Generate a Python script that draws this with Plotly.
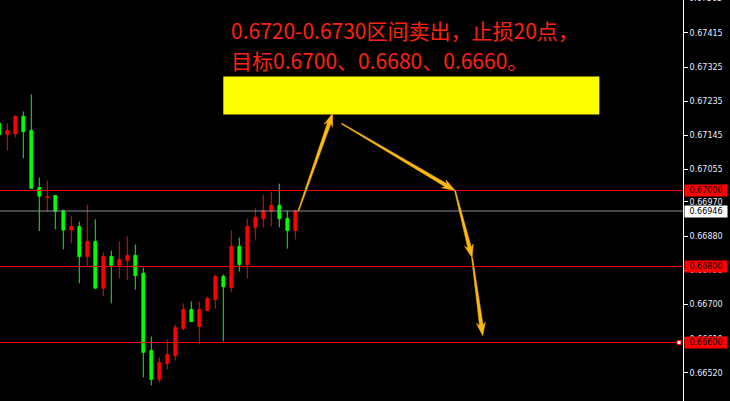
import math
import plotly.graph_objects as go

# ---------------- data ----------------
bar_index = list(range(38))
opens = [0.67177, 0.67147, 0.67149, 0.67195, 0.67158, 0.67008, 0.66982, 0.66987, 0.66947, 0.66896,
         0.66905, 0.66826, 0.66866, 0.66743, 0.66826, 0.66803, 0.66816, 0.66829, 0.66782, 0.66579,
         0.66503, 0.66545, 0.66566, 0.66637, 0.66687, 0.66642, 0.66684, 0.66713, 0.66774, 0.66745,
         0.66853, 0.66805, 0.66903, 0.66926, 0.66945, 0.66961, 0.66926, 0.66895]
highs = [0.67184, 0.67177, 0.67198, 0.67208, 0.67253, 0.67034, 0.67026, 0.66987, 0.66950, 0.66932,
         0.66918, 0.66963, 0.66924, 0.66837, 0.66842, 0.66866, 0.66879, 0.66858, 0.66797, 0.66616,
         0.66561, 0.66608, 0.66647, 0.66703, 0.66708, 0.66708, 0.66721, 0.66779, 0.66779, 0.66895,
         0.66876, 0.66926, 0.66953, 0.66989, 0.66997, 0.67018, 0.66947, 0.66950]
lows = [0.67142, 0.67105, 0.67140, 0.67085, 0.67006, 0.66893, 0.66943, 0.66898, 0.66845, 0.66861,
        0.66756, 0.66800, 0.66743, 0.66722, 0.66703, 0.66769, 0.66764, 0.66739, 0.66508, 0.66487,
        0.66495, 0.66529, 0.66553, 0.66632, 0.66655, 0.66595, 0.66684, 0.66689, 0.66603, 0.66732,
        0.66787, 0.66768, 0.66871, 0.66903, 0.66905, 0.66903, 0.66847, 0.66871]
closes = [0.67147, 0.67158, 0.67195, 0.67155, 0.67006, 0.66985, 0.66984, 0.66945, 0.66896, 0.66905,
          0.66826, 0.66866, 0.66743, 0.66826, 0.66803, 0.66818, 0.66829, 0.66776, 0.66574, 0.66503,
          0.66547, 0.66568, 0.66639, 0.66687, 0.66655, 0.66687, 0.66716, 0.66774, 0.66747, 0.66853,
          0.66805, 0.66905, 0.66929, 0.66947, 0.66961, 0.66926, 0.66895, 0.66946]

tick_vals = [0.67415, 0.67325, 0.67235, 0.67145, 0.67055, 0.66970, 0.66880, 0.66790, 0.66700, 0.66610, 0.66520]
tick_text = ["0.67415", "0.67325", "0.67235", "0.67145", "0.67055", "0.66970", "0.66880", "0.66790", "0.66700", "0.66610", "0.66520"]
top_cut_tick = "0.67505"

target_levels = [0.67000, 0.66800, 0.66600]
target_labels = ["0.67000", "0.66800", "0.66600"]
bid_price = 0.66946
bid_label = "0.66946"

sell_zone = (0.6720, 0.6730)
zone_bars = (28, 75)

title_line1 = "0.6720-0.6730区间卖出，止损20点，"
title_line2 = "目标0.6700、0.6680、0.6660。"

# arrows: (tail bar, tail price) -> (tip bar, tip price)
arrows = [((37.4, 0.66947), (41.67, 0.67203)),
          ((42.8, 0.67176), (56.96, 0.67000)),
          ((56.96, 0.67000), (59.10, 0.66823)),
          ((59.10, 0.66823), (60.42, 0.66618))]

# ---------------- layout constants ----------------
W, H = 730, 401
R_MARGIN = 47
PW, PH = W - R_MARGIN, H
XR = [0.0875, 85.46]
YR = [0.6644602, 0.6750132]
UP, DOWN = "#ff0000", "#00ff00"
ARROW_C = "#ffb80c"

fig = go.Figure()

fig.add_trace(go.Candlestick(
    x=bar_index, open=opens, high=highs, low=lows, close=closes,
    increasing=dict(line=dict(color=UP, width=1), fillcolor=UP),
    decreasing=dict(line=dict(color=DOWN, width=1), fillcolor=DOWN),
    whiskerwidth=0, showlegend=False, hoverinfo="skip",
))

shapes = []
for lv in target_levels:
    shapes.append(dict(type="line", xref="paper", yref="y", x0=0, x1=1, y0=lv, y1=lv,
                       line=dict(color="#ff0000", width=1)))
shapes.append(dict(type="line", xref="paper", yref="y", x0=0, x1=1, y0=bid_price, y1=bid_price,
                   line=dict(color="#8a8f99", width=1)))
shapes.append(dict(type="rect", xref="x", yref="y", x0=zone_bars[0], x1=zone_bars[1],
                   y0=sell_zone[0], y1=sell_zone[1], fillcolor="#ffff00", line=dict(width=0)))
# small square at end of the lowest target line
shapes.append(dict(type="rect", xref="paper", yref="y", xsizemode="pixel", ysizemode="pixel",
                   xanchor=1, yanchor=target_levels[-1], x0=-6, x1=-2, y0=-2, y1=2,
                   fillcolor="#ffffff", line=dict(color="#ff0000", width=1)))


def to_px(x, y):
    px = (x - XR[0]) / (XR[1] - XR[0]) * PW
    py = (YR[1] - y) / (YR[1] - YR[0]) * PH
    return px, py


def arrow_path(tail, tip, head_len=13.0, head_half=4.5, w0=0.5, w1=1.8):
    tx, ty = to_px(*tail)
    hx, hy = to_px(*tip)
    dx, dy = hx - tx, hy - ty
    L = math.hypot(dx, dy)
    ux, uy = dx / L, dy / L
    nx, ny = -uy, ux
    bx, by = hx - ux * head_len, hy - uy * head_len
    jx, jy = hx - ux * head_len * 0.8, hy - uy * head_len * 0.8
    pts = [(tx + nx * w0, ty + ny * w0),
           (jx + nx * w1, jy + ny * w1),
           (bx + nx * head_half, by + ny * head_half),
           (hx, hy),
           (bx - nx * head_half, by - ny * head_half),
           (jx - nx * w1, jy - ny * w1),
           (tx - nx * w0, ty - ny * w0)]
    s = ""
    for k, (px, py) in enumerate(pts):
        s += ("M" if k == 0 else "L") + f"{px / PW:.5f},{1 - py / PH:.5f} "
    return s + "Z"


for tail, tip in arrows:
    shapes.append(dict(type="path", xref="paper", yref="paper", path=arrow_path(tail, tip),
                       fillcolor=ARROW_C, line=dict(color=ARROW_C, width=0.5)))

annotations = []
TXT_FONT = dict(family="Noto Sans CJK SC", size=21, color="#ff2010")
annotations.append(dict(xref="paper", yref="paper", x=229 / PW, y=1 - 30.5 / PH, xanchor="left",
                        yanchor="middle", text=title_line1, showarrow=False, font=TXT_FONT))
annotations.append(dict(xref="paper", yref="paper", x=229 / PW, y=1 - 60 / PH, xanchor="left",
                        yanchor="middle", text=title_line2, showarrow=False, font=TXT_FONT))

LBL_FONT = dict(family="DejaVu Sans", size=8, color="#000000")
for lv, lb in zip(target_levels, target_labels):
    annotations.append(dict(xref="paper", yref="y", x=1, y=lv, xanchor="left", yanchor="middle",
                            xshift=1, text=lb, showarrow=False, bgcolor="#ff0000", width=40, height=9,
                            borderpad=1, font=LBL_FONT))
annotations.append(dict(xref="paper", yref="y", x=1, y=bid_price, xanchor="left", yanchor="middle",
                        xshift=1, text=bid_label, showarrow=False, bgcolor="#ffffff", width=40, height=9,
                        borderpad=1, font=LBL_FONT))
annotations.append(dict(xref="paper", yref="paper", x=1, y=1, xanchor="left", yanchor="middle",
                        xshift=4, yshift=2, text=top_cut_tick, showarrow=False,
                        font=dict(family="DejaVu Sans", size=8, color="#e6ecff")))

fig.update_layout(
    width=W, height=H,
    margin=dict(l=0, r=R_MARGIN, t=0, b=0, pad=0),
    paper_bgcolor="#000000", plot_bgcolor="#000000",
    boxgap=0.5,
    shapes=shapes, annotations=annotations,
    showlegend=False,
    xaxis=dict(range=XR, showgrid=False, zeroline=False, showticklabels=False, ticks="",
               showline=False, rangeslider=dict(visible=False), fixedrange=True),
    yaxis=dict(range=YR, side="right", showgrid=False, zeroline=False, tickvals=tick_vals,
               ticktext=tick_text, ticks="outside", ticklen=4, tickcolor="#ffffff",
               showline=True, linecolor="#ffffff", linewidth=1,
               tickfont=dict(family="DejaVu Sans", size=8, color="#e6ecff"), fixedrange=True),
)

fig.write_html("out.html", config={"displayModeBar": False},
               post_script="document.body.style.margin='0';document.body.style.background='#000';")
